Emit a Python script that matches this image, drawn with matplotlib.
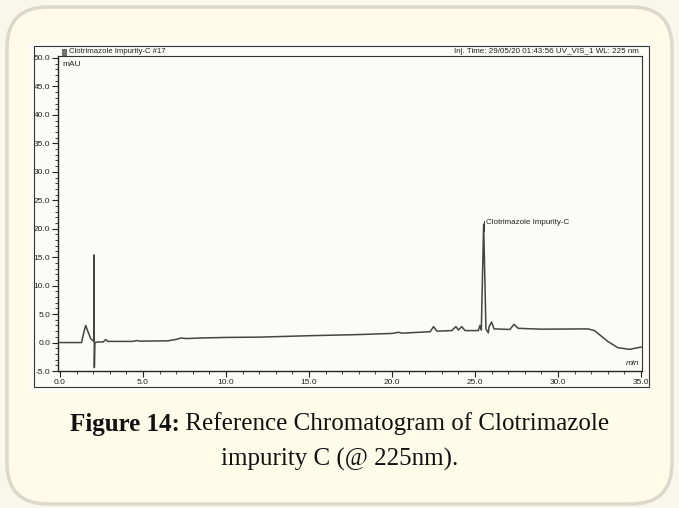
import matplotlib.pyplot as plt
from matplotlib.patches import FancyBboxPatch, Rectangle
from matplotlib.ticker import MultipleLocator, FormatStrFormatter

plt.rcParams['font.family'] = ['Liberation Sans', 'DejaVu Sans']

# chromatogram trace (time in min, signal in mAU)
time_min = [0.0, 1.3, 1.42, 1.55, 1.7, 1.85, 2.0, 2.04, 2.05, 2.07, 2.1, 2.3,
            2.6, 2.75, 2.9, 4.4, 4.6, 4.8, 6.5, 7.0, 7.3, 7.6, 8.5, 10.0, 12.0,
            15.0, 18.0, 20.0, 20.4, 20.6, 22.3, 22.5, 22.7, 23.6, 23.85, 24.0,
            24.2, 24.4, 25.2, 25.3, 25.38, 25.52, 25.66, 25.8, 25.85, 26.0,
            26.15, 27.1, 27.35, 27.6, 29.0, 31.8, 32.2, 33.0, 33.6, 34.3, 35.0]
signal_mau = [0.0, 0.0, 1.6, 3.0, 1.8, 0.7, 0.3, 0.3, 15.4, -4.4, 0.0, 0.1,
              0.1, 0.5, 0.2, 0.2, 0.35, 0.25, 0.3, 0.55, 0.8, 0.7, 0.8, 0.9, 0.95,
              1.2, 1.4, 1.6, 1.8, 1.65, 1.9, 2.8, 2.0, 2.1, 2.8, 2.2,
              2.8, 2.1, 2.1, 3.0, 2.2, 20.8, 2.4, 1.7, 2.8, 3.6,
              2.4, 2.3, 3.2, 2.5, 2.35, 2.4, 2.1, 0.2, -0.9, -1.2, -0.8]

peak_label = "Clotrimazole Impurity-C"
peak_time = 25.52
peak_height = 20.8

title_left = "Clotrimazole Impurity-C #17"
title_right = "Inj. Time: 29/05/20 01:43:56 UV_VIS_1 WL: 225 nm"
caption_bold = "Figure 14:"
caption_rest = " Reference Chromatogram of Clotrimazole"
caption_line2 = "impurity C (@ 225nm)."

W, H = 679, 508
fig = plt.figure(figsize=(W / 100, H / 100), dpi=100, facecolor="#f9f7ec")


def fx(px):
    return px / W


def fy(py):
    return 1 - py / H


# rounded card
card = FancyBboxPatch((fx(7), fy(504)), fx(665), 497 / H,
                      boxstyle="round,pad=0,rounding_size=0.06",
                      transform=fig.transFigure, facecolor="#fefbe8",
                      edgecolor="#dcd9ca", linewidth=2.5, mutation_aspect=W / H,
                      zorder=-3)
fig.patches.append(card)

# scanned sheet
fig.patches.append(Rectangle((fx(30), fy(392)), fx(620), 349 / H,
                             transform=fig.transFigure, facecolor="#fbfbfa",
                             edgecolor="none", zorder=-2))
# outer print frame
fig.patches.append(Rectangle((fx(34), fy(387)), fx(615), 341 / H,
                             transform=fig.transFigure, facecolor="none",
                             edgecolor="#333333", linewidth=0.8, zorder=-1))
# little icon in the header
fig.patches.append(Rectangle((fx(62), fy(54.5)), fx(4), 6 / H,
                             transform=fig.transFigure, facecolor="#777777",
                             edgecolor="#444444", linewidth=0.5, zorder=-1))

ax = fig.add_axes([fx(58), fy(371), fx(642 - 58), (371 - 56) / H])
ax.set_facecolor("none")
ax.plot(time_min, signal_mau, color="#444444", linewidth=1.1)
ax.set_xlim(-0.12, 35.06)
ax.set_ylim(-5.0, 50.35)

ax.xaxis.set_major_locator(MultipleLocator(5))
ax.xaxis.set_minor_locator(MultipleLocator(1))
ax.yaxis.set_major_locator(MultipleLocator(5))
ax.yaxis.set_minor_locator(MultipleLocator(1))
ax.xaxis.set_major_formatter(FormatStrFormatter("%.1f"))
ax.yaxis.set_major_formatter(FormatStrFormatter("%.1f"))
ax.tick_params(which="major", direction="out", length=4, width=0.8,
               labelsize=6, colors="#222222", pad=1.5)
ax.tick_params(which="minor", direction="out", length=2.5, width=0.6,
               colors="#222222")
for side in ["left", "bottom"]:
    ax.spines[side].set_linewidth(1.0)
    ax.spines[side].set_color("#222222")
for side in ["top", "right"]:
    ax.spines[side].set_linewidth(0.8)
    ax.spines[side].set_color("#333333")

ax.text(0.008, 0.985, "mAU", transform=ax.transAxes, fontsize=6,
        color="#222222", va="top", ha="left")
ax.text(0.995, 0.012, "min", transform=ax.transAxes, fontsize=6,
        color="#222222", va="bottom", ha="right", style="italic")

# peak label with short leader
ax.plot([peak_time + 0.02, peak_time + 0.02], [peak_height - 1.2, peak_height + 0.6],
        color="#222222", linewidth=0.6)
ax.text(peak_time + 0.15, peak_height + 0.3, peak_label, fontsize=5.8,
        color="#222222", va="center", ha="left")

# header line of the printout
fig.text(fx(69), fy(51.5), title_left, fontsize=5.6, color="#222222", va="center")
fig.text(fx(639), fy(51.5), title_right, fontsize=5.8, color="#222222",
         va="center", ha="right")

# caption, first line centred as a whole
cap_font = "Liberation Serif"
cap_size = 18
r = fig.canvas.get_renderer()
tb = fig.text(0, fy(424), caption_bold, fontsize=cap_size, fontweight="bold",
              family=cap_font, color="#111111", va="center", ha="left")
tr = fig.text(0, fy(424), caption_rest, fontsize=cap_size,
              family=cap_font, color="#111111", va="center", ha="left")
wb = tb.get_window_extent(r).width
wr = tr.get_window_extent(r).width
x0 = (W - wb - wr) / 2
tb.set_x(fx(x0))
tr.set_x(fx(x0 + wb))
fig.text(0.5, fy(459), caption_line2, fontsize=cap_size, family=cap_font,
         color="#111111", va="center", ha="center")

fig.savefig("out.png", dpi=100, facecolor=fig.get_facecolor())
